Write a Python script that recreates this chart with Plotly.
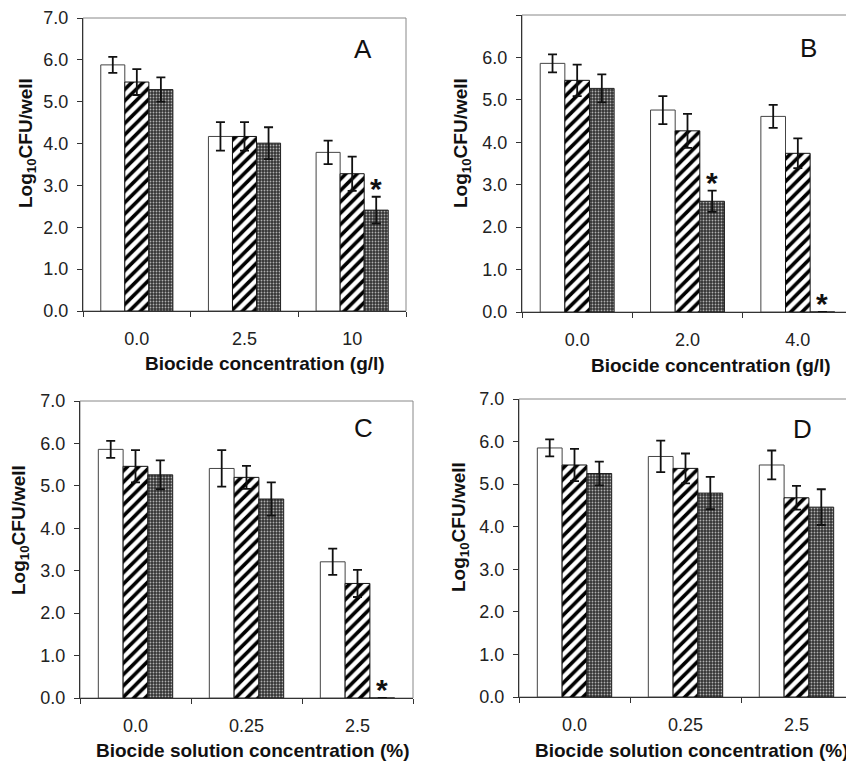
import plotly.graph_objects as go
from plotly.subplots import make_subplots

# page body adds an 8px margin around the figure; size the figure to fill the rest
OFF = 8
W, H = 854 - OFF, 761 - OFF

# ---------------- data ----------------
cats_A = ["0.0", "2.5", "10"]
cats_B = ["0.0", "2.0", "4.0"]
cats_CD = ["0.0", "0.25", "2.5"]

A_open = [5.88, 4.17, 3.79]
A_open_err = [0.19, 0.34, 0.28]
A_hatch = [5.47, 4.17, 3.28]
A_hatch_err = [0.31, 0.34, 0.41]
A_cross = [5.29, 4.01, 2.41]
A_cross_err = [0.29, 0.38, 0.32]
A_star = [False, False, True]

B_open = [5.86, 4.76, 4.61]
B_open_err = [0.21, 0.33, 0.27]
B_hatch = [5.46, 4.27, 3.74]
B_hatch_err = [0.37, 0.40, 0.35]
B_cross = [5.27, 2.61, 0.0]
B_cross_err = [0.33, 0.25, 0.0]
B_star = [False, True, True]

C_open = [5.86, 5.41, 3.21]
C_open_err = [0.20, 0.43, 0.31]
C_hatch = [5.46, 5.20, 2.70]
C_hatch_err = [0.38, 0.27, 0.32]
C_cross = [5.26, 4.69, 0.0]
C_cross_err = [0.34, 0.39, 0.0]
C_star = [False, False, True]

D_open = [5.85, 5.65, 5.45]
D_open_err = [0.20, 0.37, 0.34]
D_hatch = [5.45, 5.37, 4.68]
D_hatch_err = [0.38, 0.35, 0.28]
D_cross = [5.25, 4.79, 4.46]
D_cross_err = [0.28, 0.38, 0.42]
D_star = [False, False, False]

y_ticks = [0, 1, 2, 3, 4, 5, 6, 7]

panels = [
    dict(letter="A", cats=cats_A, series=[(A_open, A_open_err), (A_hatch, A_hatch_err), (A_cross, A_cross_err)],
         stars=A_star, xtitle="Biocide concentration (g/l)"),
    dict(letter="B", cats=cats_B, series=[(B_open, B_open_err), (B_hatch, B_hatch_err), (B_cross, B_cross_err)],
         stars=B_star, xtitle="Biocide concentration (g/l)"),
    dict(letter="C", cats=cats_CD, series=[(C_open, C_open_err), (C_hatch, C_hatch_err), (C_cross, C_cross_err)],
         stars=C_star, xtitle="Biocide solution concentration (%)"),
    dict(letter="D", cats=cats_CD, series=[(D_open, D_open_err), (D_hatch, D_hatch_err), (D_cross, D_cross_err)],
         stars=D_star, xtitle="Biocide solution concentration (%)"),
]

# ---------------- layout geometry (window pixels) ----------------
boxes = [(83, 406, 18, 311), (522, 853, 15, 312), (80, 413, 401, 698), (519, 852, 399, 697)]
letter_pos = [(363, 49), (808, 48), (363, 428), (802, 429)]
ytitle_pos = [(27, 143), (462, 143), (20, 530), (460, 527)]
xtitle_pos = [(265, 363), (711, 365), (253, 750), (692, 750)]

FONT = "Liberation Sans, Arial, Helvetica, sans-serif"
BARGAP = 0.33


def px(x):
    return (x - OFF) / W


def py(y):
    return 1 - (y - OFF) / H


fig = make_subplots(rows=2, cols=2)

styles = [
    dict(color="white", line=dict(color="#444", width=1)),
    dict(color="white", line=dict(color="#111", width=1),
         pattern=dict(shape="/", fgcolor="#000", bgcolor="white", fgopacity=1, size=8, solidity=0.45)),
    dict(color="#555", line=dict(color="#222", width=1),
         pattern=dict(shape=".", fgcolor="#b0b0b0", bgcolor="#333333", fgopacity=1, size=3, solidity=0.3)),
]

annotations = []
shapes = []
for i, p in enumerate(panels):
    r, c = i // 2 + 1, i % 2 + 1
    for s, (vals, errs) in enumerate(p["series"]):
        fig.add_trace(go.Bar(
            x=p["cats"], y=vals,
            marker=styles[s],
            error_y=dict(type="data", array=errs, visible=True, color="#111", thickness=1.8, width=4.5),
            showlegend=False,
        ), row=r, col=c)
    L, R, T, B = boxes[i]
    axn = "" if i == 0 else str(i + 1)
    fig.layout["xaxis" + axn].update(
        domain=[px(L), px(R)], type="category", tickson="boundaries",
        range=[-0.5, len(p["cats"]) - 0.5], autorange=False, automargin=False,
        ticks="outside", ticklen=5, tickcolor="#333", showline=True, linecolor="#333", linewidth=1,
        showgrid=False, tickfont=dict(family=FONT, size=18, color="#222"), ticklabelstandoff=11,
        tickangle=0,
    )
    fig.layout["yaxis" + axn].update(
        domain=[py(B), py(T)], range=[0, 7], autorange=False, automargin=False,
        tickvals=y_ticks, tickformat=".1f", ticklabelstandoff=5,
        ticks="outside", ticklen=5, tickcolor="#333", showline=True, linecolor="#333", linewidth=1,
        showgrid=False, zeroline=False, tickfont=dict(family=FONT, size=18, color="#222"),
    )
    shapes.append(dict(type="rect", xref="paper", yref="paper", x0=px(L), x1=px(R), y0=py(B), y1=py(T),
                       line=dict(color="#888", width=1), layer="below"))
    lx, ly = letter_pos[i]
    annotations.append(dict(text=p["letter"], x=px(lx), y=py(ly), xref="paper", yref="paper",
                            showarrow=False, font=dict(family=FONT, size=26, color="#111"),
                            xanchor="center", yanchor="middle"))
    tx, ty = ytitle_pos[i]
    annotations.append(dict(text="<b>Log<sub>10</sub>CFU/well</b>", x=px(tx), y=py(ty), xref="paper", yref="paper",
                            showarrow=False, textangle=-90, font=dict(family=FONT, size=19, color="#111"),
                            xanchor="center", yanchor="middle"))
    tx, ty = xtitle_pos[i]
    annotations.append(dict(text="<b>" + p["xtitle"] + "</b>", x=px(tx), y=py(ty), xref="paper", yref="paper",
                            showarrow=False, font=dict(family=FONT, size=19, color="#111"),
                            xanchor="center", yanchor="middle"))
    bar_w = (R - L) / len(p["cats"]) * (1 - BARGAP) / 3
    vals, errs = p["series"][2]
    for k, flag in enumerate(p["stars"]):
        if flag:
            annotations.append(dict(text="<b>*</b>", x=k, y=vals[k] + errs[k],
                                    xref="x" + axn, yref="y" + axn,
                                    xshift=bar_w, yshift=-10, showarrow=False,
                                    font=dict(family=FONT, size=30, color="#111"),
                                    xanchor="center", yanchor="bottom"))

fig.update_layout(
    width=W, height=H, autosize=False,
    margin=dict(l=0, r=0, t=0, b=0, pad=0, autoexpand=False),
    paper_bgcolor="white", plot_bgcolor="white",
    barmode="group", bargap=BARGAP, bargroupgap=0,
    annotations=annotations, shapes=shapes,
    font=dict(family=FONT),
)

fig.write_html("out.html")
